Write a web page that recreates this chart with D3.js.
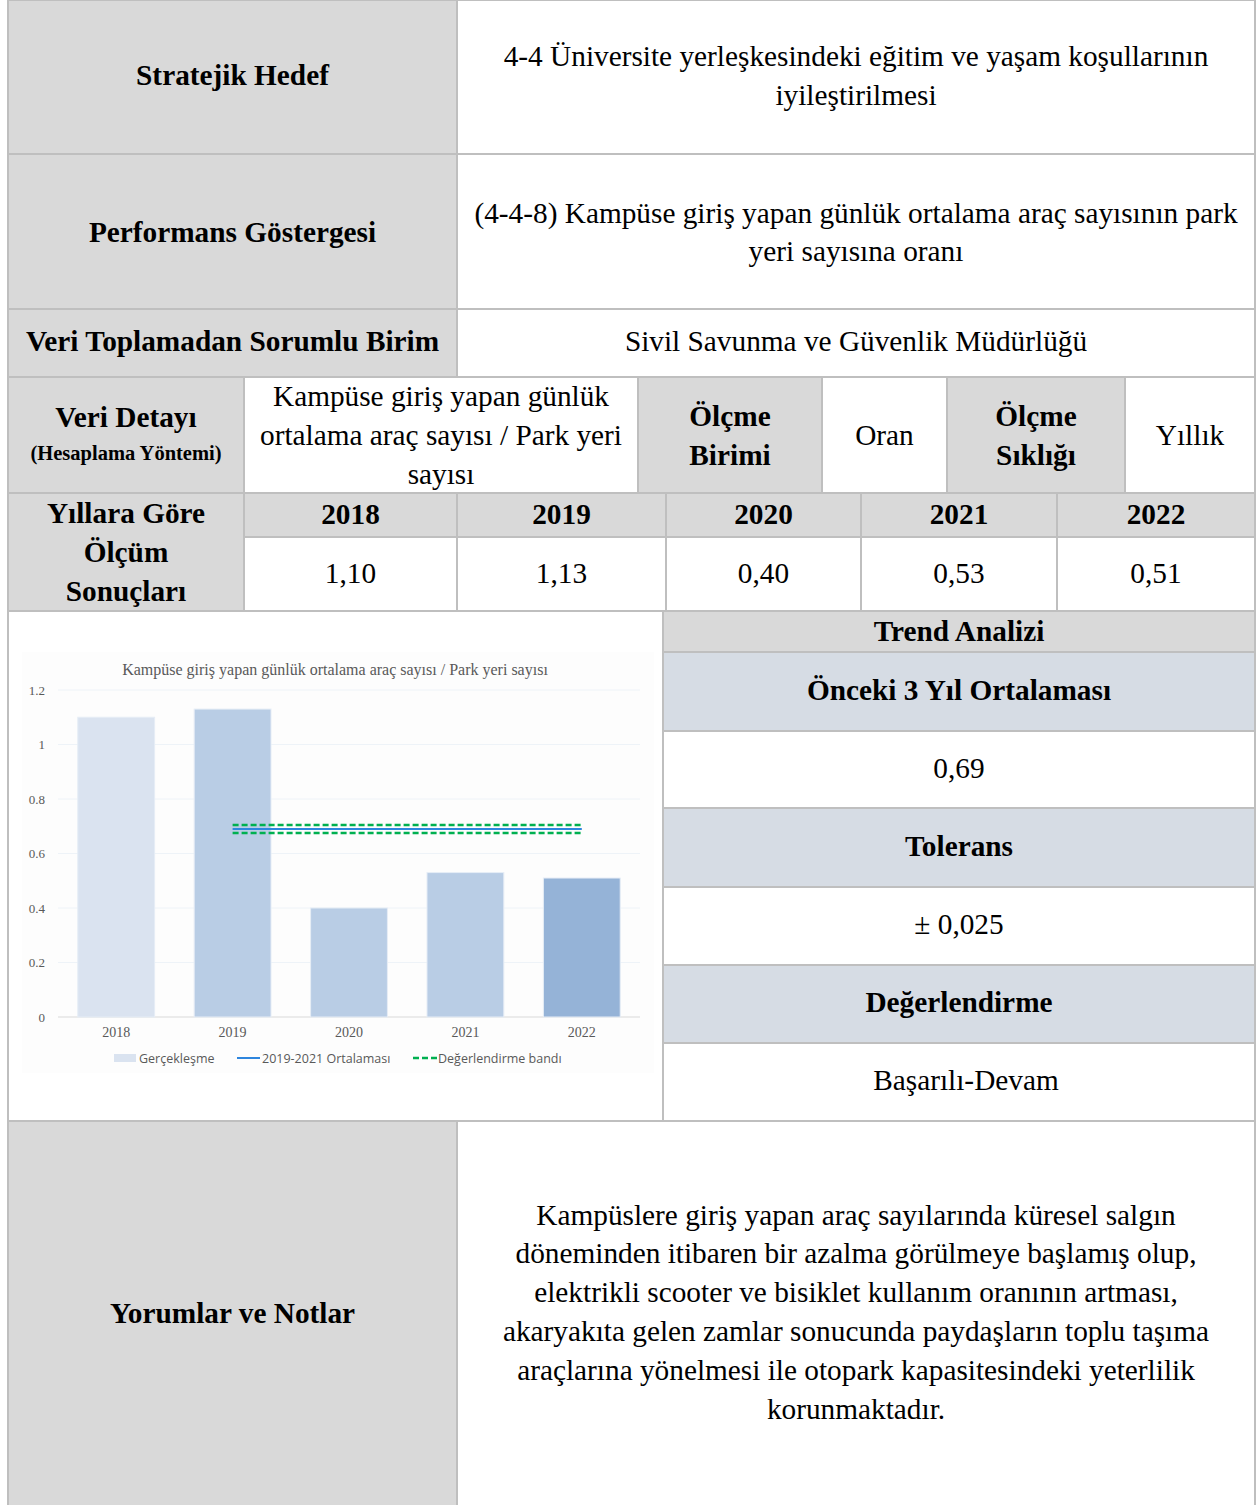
<!DOCTYPE html>
<html>
<head>
<meta charset="utf-8">
<script src="https://cdn.jsdelivr.net/npm/d3@7"></script>
<style>
  body { margin: 0; background: #fff; }
  svg { display: block; }
</style>
</head>
<body>
<svg id="page"></svg>
<script>
// Gösterge kartı - tablo + grafik
const width = 1258;
const height = 1505;

// Veriler
const years = ["2018", "2019", "2020", "2021", "2022"];
const values = [1.10, 1.13, 0.40, 0.53, 0.51];
const valueLabels = ["1,10", "1,13", "0,40", "0,53", "0,51"];
const yTicks = [0, 0.2, 0.4, 0.6, 0.8, 1, 1.2];
const avgYears = ["2019", "2022"];   // ortalama çizgisinin başı / sonu
const avgValue = 0.69;
const bandValues = [0.705, 0.675];
const legendLabels = ["Gerçekleşme", "2019-2021 Ortalaması", "Değerlendirme bandı"];

const chartTitle = "Kampüse giriş yapan günlük ortalama araç sayısı / Park yeri sayısı";

const barFills = ["#dae3f0", "#b9cde5", "#b9cde5", "#b9cde5", "#95b3d7"];

const GRAY = "#d9d9d9";
const BLUEGRAY = "#d6dce4";
const WHITE = "#ffffff";
const BORDER = "#bfbfbf";
const SERIF = "'Liberation Serif', 'Times New Roman', serif";
const FS = 29.3;

const svg = d3.select("#page")
    .attr("width", width)
    .attr("height", height);

const cells = svg.append("g").attr("id", "cells");

// hücre çizer: dikdörtgen + ortalanmış çok satırlı metin
function cell(x0, y0, x1, y1, fill, lines, opts) {
    opts = opts || {};
    cells.append("rect")
        .attr("x", x0).attr("y", y0)
        .attr("width", x1 - x0).attr("height", y1 - y0)
        .attr("fill", fill)
        .attr("stroke", BORDER)
        .attr("stroke-width", 2);
    if (!lines) return;
    const lh = opts.lh || 39;
    const cx = (x0 + x1) / 2 + (opts.dx || 0);
    const cy = (y0 + y1) / 2 + (opts.dy || 0);
    const n = lines.length;
    lines.forEach((ln, i) => {
        const t = typeof ln === "string" ? { text: ln } : ln;
        cells.append("text")
            .attr("x", cx)
            .attr("y", cy + (i - (n - 1) / 2) * lh)
            .attr("text-anchor", "middle")
            .attr("dominant-baseline", "central")
            .attr("font-family", SERIF)
            .attr("font-size", t.size || opts.size || FS)
            .attr("font-weight", (t.bold !== undefined ? t.bold : opts.bold) ? "bold" : "normal")
            .attr("fill", "#000")
            .text(t.text);
    });
}

const L = 8, R = 1255;

// Satır 1-3
cell(L, 0, 457, 154, GRAY, ["Stratejik Hedef"], { bold: true, dy: -2 });
cell(457, 0, R, 154, WHITE, ["4-4 Üniversite yerleşkesindeki eğitim ve yaşam koşullarının", "iyileştirilmesi"], { dy: -2 });
cell(L, 154, 457, 309, GRAY, ["Performans Göstergesi"], { bold: true });
cell(457, 154, R, 309, WHITE, ["(4-4-8) Kampüse giriş yapan günlük ortalama araç sayısının park", "yeri sayısına oranı"], { lh: 38 });
cell(L, 309, 457, 377, GRAY, ["Veri Toplamadan Sorumlu Birim"], { bold: true, dy: -2 });
cell(457, 309, R, 377, WHITE, ["Sivil Savunma ve Güvenlik Müdürlüğü"], { dy: -2 });

// Satır 4 - veri detayı
cell(L, 377, 244, 493, GRAY, [{ text: "Veri Detayı", size: FS }, { text: "(Hesaplama Yöntemi)", size: 20.5 }], { bold: true, lh: 36, dy: 0 });
cell(244, 377, 638, 493, WHITE, ["Kampüse giriş yapan günlük", "ortalama araç sayısı / Park yeri", "sayısı"]);
cell(638, 377, 822, 493, GRAY, ["Ölçme", "Birimi"], { bold: true });
cell(822, 377, 947, 493, WHITE, ["Oran"]);
cell(947, 377, 1125, 493, GRAY, ["Ölçme", "Sıklığı"], { bold: true });
cell(1125, 377, R, 493, WHITE, ["Yıllık"]);

// Satır 5-6 - yıllara göre sonuçlar
cell(L, 493, 244, 611, GRAY, ["Yıllara Göre", "Ölçüm", "Sonuçları"], { bold: true });
const yearCols = [244, 457, 666, 861, 1057, R];
years.forEach((yr, i) => {
    cell(yearCols[i], 493, yearCols[i + 1], 537, GRAY, [yr], { bold: true, dy: -1 });
    cell(yearCols[i], 537, yearCols[i + 1], 611, WHITE, [valueLabels[i]], { dy: -1 });
});

// Satır 7 - grafik + trend analizi
cell(L, 611, 663, 1121, WHITE, null);
cell(663, 611, R, 652, GRAY, ["Trend Analizi"], { bold: true, dy: -1 });
cell(663, 652, R, 731, BLUEGRAY, ["Önceki 3 Yıl Ortalaması"], { bold: true, dy: -2 });
cell(663, 731, R, 808, WHITE, ["0,69"], { dy: -2 });
cell(663, 808, R, 887, BLUEGRAY, ["Tolerans"], { bold: true, dy: -2 });
cell(663, 887, R, 965, WHITE, ["± 0,025"], { dy: -2 });
cell(663, 965, R, 1043, BLUEGRAY, ["Değerlendirme"], { bold: true, dy: -2 });
cell(663, 1043, R, 1121, WHITE, ["Başarılı-Devam"], { dy: -2, dx: 7 });

// Satır 8 - yorumlar
cell(L, 1121, 457, 1520, GRAY, ["Yorumlar ve Notlar"], { bold: true, dy: -8 });
cell(457, 1121, R, 1520, WHITE, [
    "Kampüslere giriş yapan araç sayılarında küresel salgın",
    "döneminden itibaren bir azalma görülmeye başlamış olup,",
    "elektrikli scooter ve bisiklet kullanım oranının artması,",
    "akaryakıta gelen zamlar sonucunda paydaşların toplu taşıma",
    "araçlarına yönelmesi ile otopark kapasitesindeki yeterlilik",
    "korunmaktadır."
], { lh: 38.8, dy: -9 });

// ---- Grafik ----
const chart = svg.append("g").attr("id", "chart");

chart.append("rect")
    .attr("x", 22).attr("y", 652)
    .attr("width", 632).attr("height", 421)
    .attr("fill", "#fdfdfd");

const x = d3.scaleBand()
    .domain(years)
    .range([58, 640])
    .paddingInner(0.34)
    .paddingOuter(0.17);

const y = d3.scaleLinear()
    .domain([0, 1.2])
    .range([1017, 690]);

// başlık
chart.append("text")
    .attr("x", 335).attr("y", 669)
    .attr("text-anchor", "middle")
    .attr("dominant-baseline", "central")
    .attr("font-family", SERIF)
    .attr("font-size", 16)
    .attr("fill", "#595959")
    .text(chartTitle);

// ızgara
chart.append("g")
    .selectAll("line")
    .data(yTicks)
    .enter()
    .append("line")
    .attr("x1", 58).attr("x2", 640)
    .attr("y1", d => y(d)).attr("y2", d => y(d))
    .attr("stroke", d => d === 0 ? "#d9d9d9" : "#eef3f8")
    .attr("stroke-width", 1);

// y ekseni
const yAxis = chart.append("g")
    .attr("transform", "translate(58,0)")
    .call(d3.axisLeft(y).tickValues(yTicks).tickFormat(d3.format("~g")).tickSize(0).tickPadding(13));
yAxis.select(".domain").remove();
yAxis.selectAll("text")
    .attr("font-family", SERIF)
    .attr("font-size", 13)
    .attr("fill", "#595959");

// x ekseni
const xAxis = chart.append("g")
    .attr("transform", "translate(0,1017)")
    .call(d3.axisBottom(x).tickSize(0).tickPadding(10));
xAxis.select(".domain").remove();
xAxis.selectAll("text")
    .attr("font-family", SERIF)
    .attr("font-size", 14)
    .attr("fill", "#595959");

// çubuklar
chart.append("g")
    .selectAll("rect")
    .data(years)
    .enter()
    .append("rect")
    .attr("x", d => x(d))
    .attr("y", (d, i) => y(values[i]))
    .attr("width", x.bandwidth())
    .attr("height", (d, i) => y(0) - y(values[i]))
    .attr("fill", (d, i) => barFills[i])
    .attr("stroke", "#e6edf6")
    .attr("stroke-width", 1);

// ortalama ve değerlendirme bandı
const xa = x(avgYears[0]) + x.bandwidth() / 2;
const xb = x(avgYears[1]) + x.bandwidth() / 2;

chart.append("line")
    .attr("x1", xa).attr("x2", xb)
    .attr("y1", y(avgValue)).attr("y2", y(avgValue))
    .attr("stroke", "#2e86de")
    .attr("stroke-width", 2);

chart.append("g")
    .selectAll("line")
    .data(bandValues)
    .enter()
    .append("line")
    .attr("x1", xa).attr("x2", xb)
    .attr("y1", d => y(d)).attr("y2", d => y(d))
    .attr("stroke", "#00b050")
    .attr("stroke-width", 2.5)
    .attr("stroke-dasharray", "6,3");

// lejant
const legend = chart.append("g").attr("transform", "translate(0,1058)");
const legendX = [114, 237, 413];

legend.append("rect")
    .attr("x", legendX[0]).attr("y", -4)
    .attr("width", 22).attr("height", 8)
    .attr("fill", barFills[0]);
legend.append("line")
    .attr("x1", legendX[1]).attr("x2", legendX[1] + 23)
    .attr("y1", 0).attr("y2", 0)
    .attr("stroke", "#2e86de").attr("stroke-width", 2);
legend.append("line")
    .attr("x1", legendX[2]).attr("x2", legendX[2] + 24)
    .attr("y1", 0).attr("y2", 0)
    .attr("stroke", "#00b050").attr("stroke-width", 2.5)
    .attr("stroke-dasharray", "6,3");

legend.selectAll("text")
    .data(legendLabels)
    .enter()
    .append("text")
    .attr("x", (d, i) => legendX[i] + 25)
    .attr("y", 0)
    .attr("dominant-baseline", "central")
    .attr("font-family", "'Open Sans', 'Noto Sans', sans-serif")
    .attr("font-size", 12.5)
    .attr("fill", "#595959")
    .text(d => d);
</script>
</body>
</html>
